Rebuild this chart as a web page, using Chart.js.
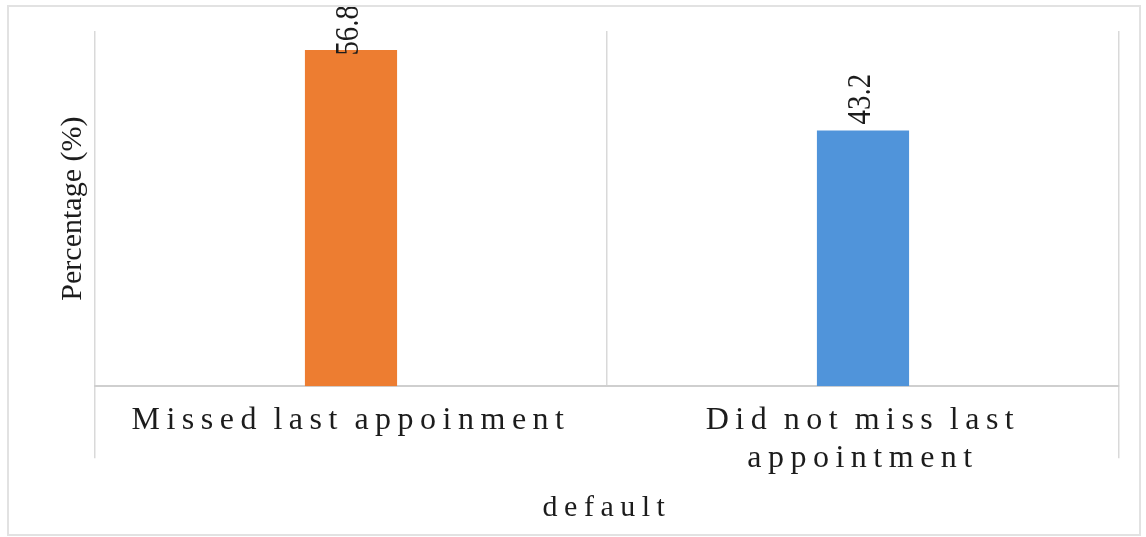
<!DOCTYPE html>
<html>
<head>
<meta charset="utf-8">
<script src="https://cdn.jsdelivr.net/npm/chart.js@4.4.0/dist/chart.umd.min.js"></script>
<style>
  html, body { margin: 0; padding: 0; background: #fff; }
  #wrap { position: relative; width: 1146px; height: 537px; }
  #frame { position: absolute; left: 7px; top: 5px; width: 1130px; height: 527px; border: 2px solid #e2e2e2; pointer-events: none; }
</style>
</head>
<body>
<div id="wrap">
  <canvas id="chart" width="1146" height="537"></canvas>
  <div id="frame"></div>
</div>
<script>
// dati del grafico
const categories = ['Missed last appoinment', ['Did not miss last', 'appointment']];
const percentages = [56.8, 43.2];
const barColors = ['#ED7D31', '#5094DA'];
const yTitle = 'Percentage (%)';
const xTitle = 'default';

const serif = "'Liberation Serif', 'Times New Roman', serif";
const textColor = '#1c1c1c';
const gridColor = '#d9d9d9';

// spaziatura lettere solo per etichette e titolo dell'asse x
const spacedAxis = {
    id: 'spacedAxis',
    afterLayout(chart) {
        const sc = chart.scales.x;
        if (sc._spaced) return;
        const spacing = { drawLabels: ['6.5px', '-4px'], drawTitle: ['6.5px', '0px'] };
        Object.keys(spacing).forEach(name => {
            const orig = sc[name].bind(sc);
            sc[name] = function (area) {
                const ctx = chart.ctx;
                ctx.save();
                ctx.letterSpacing = spacing[name][0];
                ctx.wordSpacing = spacing[name][1];
                orig(area);
                ctx.restore();
            };
        });
        sc._spaced = true;
    }
};

// etichette valori ruotate sopra le barre
const barLabels = {
    id: 'barLabels',
    afterDatasetsDraw(chart) {
        const ctx = chart.ctx;
        const meta = chart.getDatasetMeta(0);
        const squeeze = 0.85;
        meta.data.forEach((bar, i) => {
            const txt = percentages[i].toFixed(1);
            ctx.save();
            ctx.font = '34px ' + serif;
            const len = ctx.measureText(txt).width * squeeze;
            let anchor = bar.y - 6;
            if (anchor - len < 5) anchor = 5 + len;
            ctx.translate(bar.x - 2, anchor);
            ctx.rotate(-Math.PI / 2);
            ctx.scale(squeeze, 1);
            ctx.fillStyle = textColor;
            ctx.textAlign = 'left';
            ctx.textBaseline = 'middle';
            ctx.fillText(txt, 0, 0);
            ctx.restore();
        });
    }
};

new Chart(document.getElementById('chart'), {
    type: 'bar',
    data: {
        labels: categories,
        datasets: [{
            data: percentages,
            backgroundColor: barColors,
            borderWidth: 0,
            categoryPercentage: 1,
            barPercentage: 0.18
        }]
    },
    options: {
        responsive: false,
        animation: false,
        layout: { padding: { top: 31, left: 51, right: 27, bottom: 11 } },
        plugins: { legend: { display: false }, tooltip: { enabled: false } },
        scales: {
            x: {
                offset: true,
                grid: {
                    offset: true,
                    color: gridColor,
                    lineWidth: 1.5,
                    drawTicks: true,
                    tickLength: 72,
                    tickColor: c => c.index === 1 ? 'rgba(0,0,0,0)' : gridColor
                },
                border: { display: true, color: '#cfcfcf', width: 2 },
                ticks: {
                    color: textColor,
                    font: { family: serif, size: 32, lineHeight: 1.2 },
                    padding: -57,
                    maxRotation: 0,
                    autoSkip: false
                },
                title: {
                    display: true,
                    text: xTitle,
                    color: textColor,
                    font: { family: serif, size: 30 },
                    padding: { top: 69, bottom: 0 }
                }
            },
            y: {
                min: 0,
                max: 60,
                grid: { display: false, drawTicks: false },
                border: { display: false },
                ticks: { display: false },
                title: {
                    display: true,
                    text: yTitle,
                    color: textColor,
                    font: { family: serif, size: 30 },
                    padding: { top: 4, bottom: 4 }
                }
            }
        }
    },
    plugins: [spacedAxis, barLabels]
});
</script>
</body>
</html>
